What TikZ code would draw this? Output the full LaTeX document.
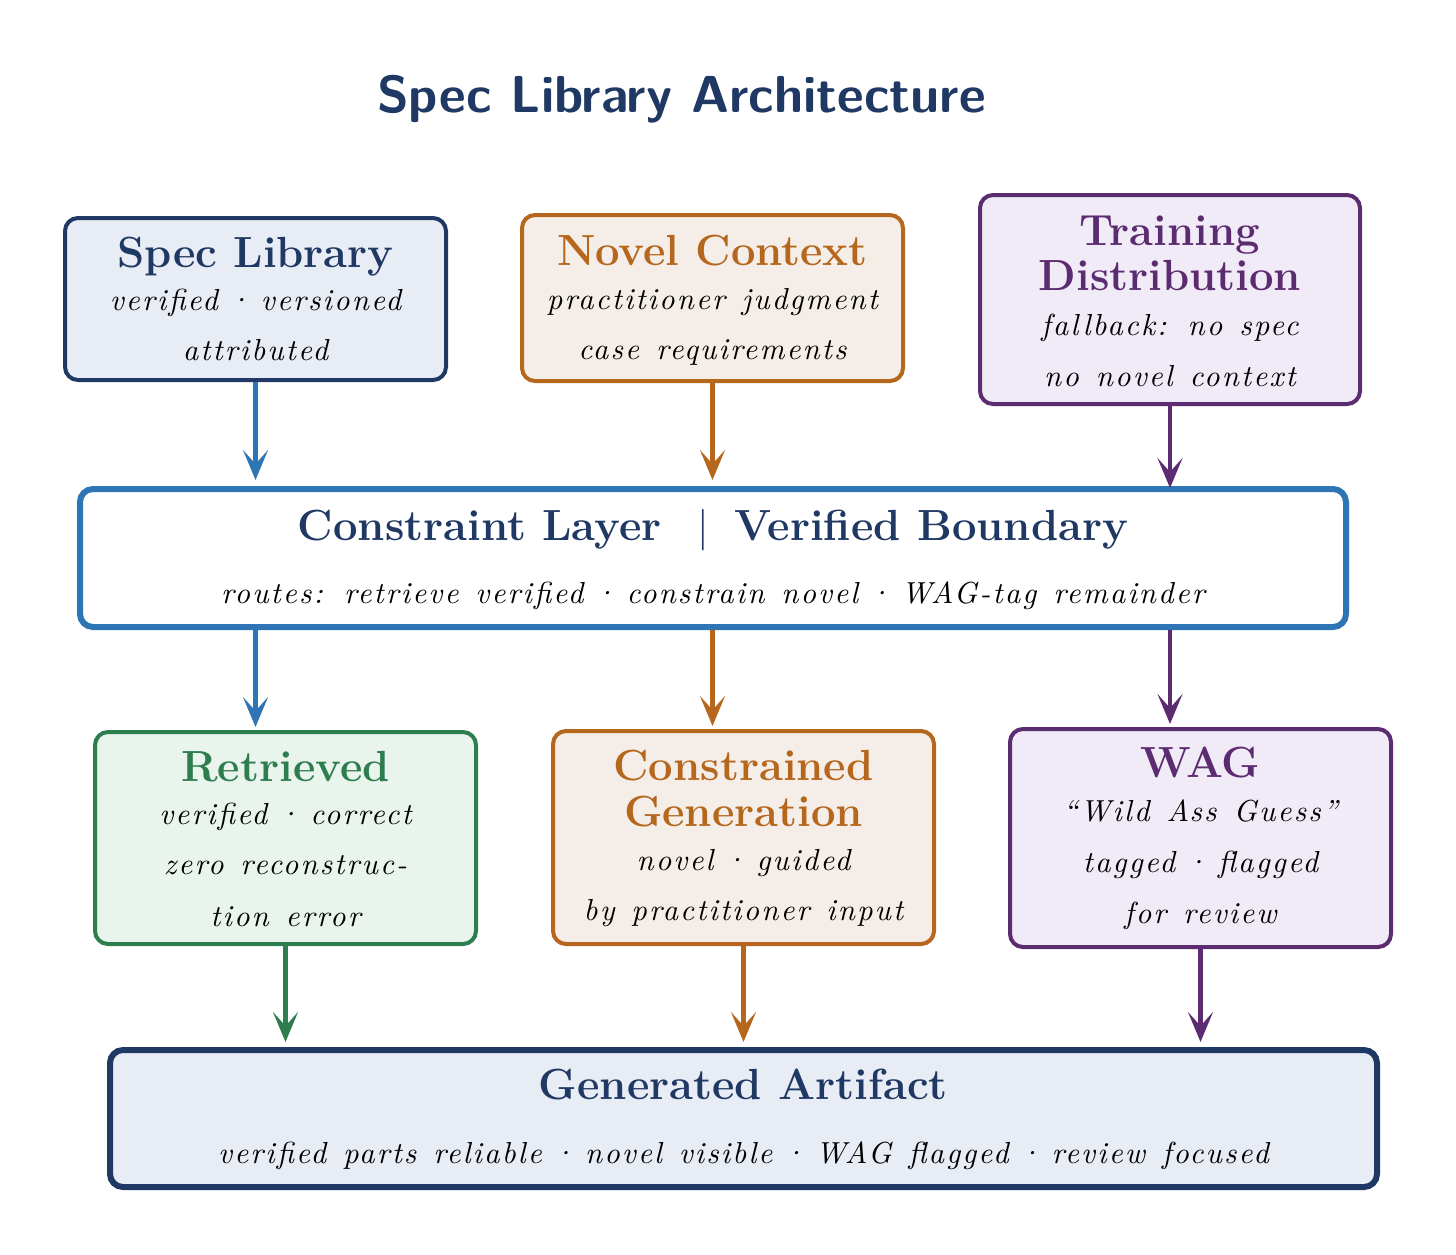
\documentclass[tikz,border=0pt]{standalone}
\usepackage{fontspec}
\newfontface\subit{lmroman10-italic.otf}[LetterSpace=7,WordSpace=1.3]
\newcommand\mydot{\kern-3.5pt·\kern-3.5pt}
\usetikzlibrary{arrows.meta,fit}
\definecolor{navy}{HTML}{1F3864}
\definecolor{cblue}{HTML}{2E75B6}
\definecolor{corange}{HTML}{B5671E}
\definecolor{cpurple}{HTML}{5B2C6F}
\definecolor{cgreen}{HTML}{2E7D4F}
\definecolor{fblue}{HTML}{E8EDF5}
\definecolor{forange}{HTML}{F5EEE8}
\definecolor{fpurple}{HTML}{F1EAF7}
\definecolor{fgreen}{HTML}{E8F4EC}
\tikzset{
  box/.style={draw, rounded corners=6.5pt, line width=2pt, inner sep=0pt},
  bigbox/.style={box, line width=3pt},
  ttl/.style={anchor=base, inner sep=0pt, font=\fontsize{21.8}{26}\selectfont\bfseries},
  sub/.style={anchor=base, inner sep=0pt, text=black, font=\fontsize{15.2}{19}\selectfont\subit},
  arr/.style={line width=2.2pt, -{Stealth[length=15pt,width=12.5pt,inset=7pt]}},
}
\begin{document}
\begin{tikzpicture}[x=0.5pt,y=-0.5pt]
\useasboundingbox (0,0) rectangle (1456,1254);
% title
\node[anchor=base, inner sep=0pt, text=navy, font=\fontsize{26}{31}\selectfont\sffamily\bfseries] (title) at (681.5,112) {Spec Library Architecture};
% corner coordinates
\coordinate (sla) at (65,218);   \coordinate (slb) at (446,380);
\coordinate (nca) at (522,215);  \coordinate (ncb) at (903,381);
\coordinate (tda) at (980,195);  \coordinate (tdb) at (1360,404);
\coordinate (cla) at (80,489);   \coordinate (clb) at (1346,627);
\coordinate (rea) at (95,732);   \coordinate (reb) at (476,944);
\coordinate (cga) at (553,731);  \coordinate (cgb) at (934,944);
\coordinate (waa) at (1010,729); \coordinate (wab) at (1391,947);
\coordinate (gaa) at (110,1050); \coordinate (gab) at (1377,1187);
% boxes
\node[box, draw=navy, fill=fblue, fit=(sla)(slb)] (sl) {};
\node[box, draw=corange, fill=forange, fit=(nca)(ncb)] (nc) {};
\node[box, draw=cpurple, fill=fpurple, fit=(tda)(tdb)] (td) {};
\node[bigbox, draw=cblue, fill=white, fit=(cla)(clb)] (cl) {};
\node[box, draw=cgreen, fill=fgreen, fit=(rea)(reb)] (re) {};
\node[box, draw=corange, fill=forange, fit=(cga)(cgb)] (cg) {};
\node[box, draw=cpurple, fill=fpurple, fit=(waa)(wab)] (wa) {};
\node[bigbox, draw=navy, fill=fblue, fit=(gaa)(gab)] (ga) {};
% texts
\node[ttl, text=navy] (slt) at (255.5,267) {Spec Library};
\node[sub] (sls1) at (255.5,310) {verified \mydot{} versioned};
\node[sub] (sls2) at (255.5,360) {attributed};

\node[ttl, text=corange] (nct) at (712.5,265) {Novel Context};
\node[sub] (ncs1) at (712.5,309) {practitioner judgment};
\node[sub] (ncs2) at (712.5,359) {case requirements};

\node[ttl, text=cpurple] (tdt1) at (1170,245) {Training};
\node[ttl, text=cpurple] (tdt2) at (1170,290) {Distribution};
\node[sub] (tds1) at (1170,335) {fallback: no spec};
\node[sub] (tds2) at (1170,386) {no novel context};

\node[ttl, text=navy] (clt) at (713,540) {Constraint Layer\hspace{18pt}{\mdseries$|$}\hspace{13pt}Verified Boundary};
\node[sub] (cls) at (713,603) {routes: retrieve verified \mydot{} constrain novel \mydot{} WAG-tag remainder};

\node[ttl, text=cgreen] (ret) at (285.5,781) {Retrieved};
\node[sub] (res1) at (285.5,824) {verified \mydot{} correct};
\node[sub] (res2) at (285.5,874) {zero reconstruc-};
\node[sub] (res3) at (285.5,926) {tion error};

\node[ttl, text=corange] (cgt1) at (743.5,780) {Constrained};
\node[ttl, text=corange] (cgt2) at (743.5,826) {Generation};
\node[sub] (cgs1) at (743.5,870) {novel \mydot{} guided};
\node[sub] (cgs2) at (743.5,920) {by practitioner input};

\node[ttl, text=cpurple] (wat) at (1200.5,777) {WAG};
\node[sub] (was1) at (1200.5,821) {“Wild Ass Guess”};
\node[sub] (was2) at (1200.5,872) {tagged \mydot{} flagged};
\node[sub] (was3) at (1200.5,923) {for review};

\node[ttl, text=navy] (gat) at (743.5,1099) {Generated Artifact};
\node[sub] (gas) at (743.5,1163) {verified parts reliable \mydot{} novel visible \mydot{} WAG flagged \mydot{} review focused};
% arrows
\draw[arr, cblue, shorten >=3pt] (sl.south) -- (sl.south |- cl.north);
\draw[arr, corange, shorten >=3pt] (nc.south) -- (nc.south |- cl.north);
\draw[arr, cpurple, shorten >=-1pt] (td.south) -- (td.south |- cl.north);
\draw[arr, cblue, shorten >=1.5pt] (sl.south |- cl.south) -- (sl.south |- re.north);
\draw[arr, corange, shorten >=1.5pt] (nc.south |- cl.south) -- (nc.south |- cg.north);
\draw[arr, cpurple, shorten >=1.5pt] (td.south |- cl.south) -- (td.south |- wa.north);
\draw[arr, cgreen, shorten >=2.5pt] (re.south) -- (re.south |- ga.north);
\draw[arr, corange, shorten >=2.5pt] (cg.south) -- (cg.south |- ga.north);
\draw[arr, cpurple, shorten >=2.5pt] (wa.south) -- (wa.south |- ga.north);
\end{tikzpicture}
\end{document}
